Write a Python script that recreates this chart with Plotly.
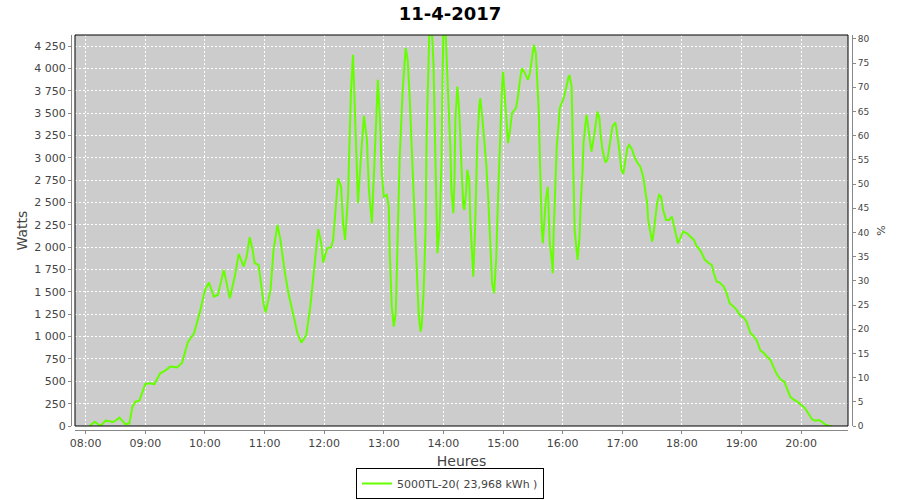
import plotly.graph_objects as go

DAY = "2017-04-11"
TITLE = "11-4-2017"
SERIES_NAME = "5000TL-20( 23,968 kWh )"

times = [
    "08:04", "08:09", "08:15", "08:20", "08:28", "08:34", "08:40", "08:44", "08:47", "08:50",
    "08:54", "09:00", "09:05", "09:09", "09:15", "09:20", "09:25", "09:32", "09:37", "09:43",
    "09:49", "09:55", "10:00", "10:04", "10:09", "10:13", "10:19", "10:25", "10:30", "10:34",
    "10:39", "10:42", "10:45", "10:48", "10:50", "10:54", "10:59", "11:01", "11:06", "11:09",
    "11:13", "11:16", "11:20", "11:24", "11:29", "11:33", "11:37", "11:42", "11:46", "11:50",
    "11:54", "11:57", "11:59", "12:03", "12:07", "12:09", "12:12", "12:14", "12:17", "12:19",
    "12:21", "12:24", "12:26", "12:27", "12:29", "12:30", "12:32", "12:34", "12:37", "12:40",
    "12:43", "12:45", "12:48", "12:50", "12:52", "12:54", "12:56", "12:58", "13:00", "13:03",
    "13:05", "13:06", "13:08", "13:10", "13:12", "13:14", "13:16", "13:19", "13:21", "13:22",
    "13:24", "13:26", "13:29", "13:31", "13:33", "13:35", "13:37", "13:38", "13:40", "13:42",
    "13:43", "13:45", "13:46", "13:48", "13:50", "13:52", "13:53", "13:54", "13:56", "13:58",
    "13:59", "14:00", "14:02", "14:04", "14:06", "14:07", "14:08", "14:10", "14:11", "14:12",
    "14:14", "14:16", "14:18", "14:20", "14:21", "14:23", "14:24", "14:26", "14:27", "14:29",
    "14:30", "14:32", "14:34", "14:36", "14:37", "14:39", "14:41", "14:43", "14:45", "14:47",
    "14:49", "14:51", "14:53", "14:55", "14:57", "14:59", "15:00", "15:01", "15:03", "15:05",
    "15:07", "15:09", "15:13", "15:15", "15:17", "15:19", "15:22", "15:25", "15:27", "15:29",
    "15:31", "15:33", "15:34", "15:36", "15:37", "15:38", "15:39", "15:40", "15:42", "15:43",
    "15:45", "15:46", "15:47", "15:49", "15:50", "15:51", "15:53", "15:54", "15:56", "15:57",
    "15:59", "16:01", "16:03", "16:06", "16:07", "16:09", "16:10", "16:11", "16:12", "16:14",
    "16:15", "16:17", "16:18", "16:20", "16:21", "16:23", "16:24", "16:26", "16:28", "16:29",
    "16:32", "16:34", "16:35", "16:37", "16:38", "16:40", "16:43", "16:45", "16:48", "16:50",
    "16:53", "16:54", "16:57", "16:59", "17:01", "17:03", "17:05", "17:07", "17:10", "17:12",
    "17:15", "17:18", "17:21", "17:23", "17:25", "17:26", "17:28", "17:30", "17:31", "17:33",
    "17:35", "17:37", "17:39", "17:41", "17:44", "17:47", "17:50", "17:51", "17:53", "17:55",
    "17:56", "17:59", "18:01", "18:05", "18:08", "18:12", "18:15", "18:17", "18:20", "18:23",
    "18:27", "18:30", "18:32", "18:35", "18:38", "18:42", "18:45", "18:48", "18:52", "18:55",
    "18:59", "19:02", "19:05", "19:09", "19:12", "19:15", "19:19", "19:22", "19:25", "19:29",
    "19:32", "19:35", "19:39", "19:43", "19:45", "19:49", "19:52", "19:56", "20:00", "20:04",
    "20:07", "20:11", "20:14", "20:18", "20:21", "20:24", "20:28", "20:31",
]

watts = [
    0, 48, 0, 60, 45, 93, 19, 30, 216, 272,
    283, 470, 477, 466, 589, 619, 664, 656, 709, 944,
    1037, 1279, 1522, 1604, 1447, 1466, 1746, 1429, 1671, 1925,
    1783, 1895, 2111, 1969, 1820, 1802, 1373, 1268, 1522, 1969,
    2249, 2081, 1746, 1485, 1242, 1037, 933, 1018, 1335, 1746,
    2201, 2044, 1828, 1988, 1999, 2081, 2492, 2771, 2678, 2268,
    2081, 2566, 3387, 3760, 4151, 3834, 3014, 2492, 3014, 3469,
    3200, 2641, 2268, 2753, 3312, 3872, 3462, 2827, 2566, 2585,
    2454, 1932, 1335, 1112, 1261, 2007, 3014, 3760, 4170, 4226,
    4096, 3685, 2865, 2268, 1708, 1261, 1056, 1112, 1485, 2193,
    3200, 4207, 4500, 4500, 4058, 2939, 2193, 1932, 2193, 2939,
    3797, 4450, 4450, 3946, 3499, 3088, 2641, 2380, 2715, 3424,
    3797, 3499, 2939, 2454, 2417, 2641, 2865, 2753, 2305, 1820,
    1671, 2268, 3163, 3573, 3667, 3462, 3200, 2939, 2566, 2119,
    1596, 1485, 1858, 2566, 3312, 3797, 3965, 3797, 3462, 3163,
    3312, 3499, 3555, 3685, 3872, 4002, 3946, 3872, 3946, 4096,
    4263, 4170, 3909, 3499, 3014, 2566, 2193, 2044, 2342, 2529,
    2678, 2417, 2044, 1858, 1708, 2193, 2753, 3126, 3387, 3555,
    3611, 3667, 3760, 3909, 3916, 3797, 3238, 2753, 2193, 1969,
    1858, 2119, 2454, 2865, 3163, 3387, 3480, 3312, 3163, 3070,
    3275, 3462, 3517, 3443, 3275, 3088, 2947, 2977, 3200, 3349,
    3394, 3331, 3088, 2865, 2820, 2958, 3107, 3144, 3088, 3014,
    2947, 2902, 2790, 2641, 2492, 2305, 2193, 2063, 2119, 2305,
    2492, 2585, 2566, 2417, 2305, 2305, 2342, 2286, 2193, 2081,
    2044, 2119, 2175, 2156, 2119, 2081, 2007, 1988, 1932, 1858,
    1820, 1802, 1708, 1615, 1604, 1559, 1485, 1373, 1335, 1298,
    1231, 1216, 1167, 1037, 1007, 962, 843, 821, 783, 739,
    664, 589, 522, 496, 440, 328, 298, 272, 235, 198,
    142, 75, 60, 67, 48, 19, 0, 0,
]

watts_ticks = list(range(0, 4251, 250))
pct_ticks = list(range(0, 81, 5))

x_vals = [f"{DAY} {t}" for t in times]

FONT = "DejaVu Sans"
LABEL = "#444444"
AXIS = "#888888"

fig = go.Figure()
fig.add_trace(go.Scatter(
    x=x_vals, y=watts, mode="lines", name=SERIES_NAME,
    line=dict(color="#66FF00", width=2),
))
# empty trace so that the right % axis is drawn
fig.add_trace(go.Scatter(
    x=[x_vals[0]], y=[None], yaxis="y2", mode="lines",
    showlegend=False, hoverinfo="skip",
))

W, H = 900, 500
ml, mr, mt, mb = 71, 48, 35, 70
pw = W - ml - mr
ph = H - mt - mb
gap = 4

fig.update_layout(
    width=W, height=H,
    margin=dict(l=ml, r=mr, t=mt, b=mb, autoexpand=False),
    paper_bgcolor="white",
    plot_bgcolor="#CCCCCC",
    separators=", ",
    font=dict(family=FONT, color=LABEL, size=11),
    title=dict(text=f"<b>{TITLE}</b>", x=0.5, xref="container", xanchor="center",
               y=1 - 14 / H, yref="container", yanchor="middle", automargin=False,
               font=dict(size=18, color="black", family=FONT)),
    showlegend=True,
    legend=dict(orientation="h", x=(450 - ml) / pw, xanchor="center",
                y=-(499 - (H - mb)) / ph, yanchor="bottom",
                bordercolor="black", borderwidth=1, bgcolor="white",
                font=dict(size=11, color=LABEL, family=FONT),
                itemwidth=30, tracegroupgap=0),
    xaxis=dict(
        type="date", automargin=False,
        domain=[gap / pw, (pw - gap) / pw],
        range=[f"{DAY} 07:49:14", f"{DAY} 20:47:06"],
        tick0=f"{DAY} 08:00", dtick=3600000, tickformat="%H:%M",
        showgrid=True, gridcolor="white", griddash="2px,2px", gridwidth=1,
        showline=True, linecolor=AXIS, linewidth=1,
        anchor="free", position=0,
        ticks="outside", ticklen=3, tickcolor=AXIS,
        tickfont=dict(size=11, color=LABEL),
        title=dict(text="Heures", font=dict(size=14, color=LABEL), standoff=6),
        zeroline=False,
    ),
    yaxis=dict(
        automargin=False,
        domain=[gap / ph, 1],
        range=[0, 4373],
        tickmode="array", tickvals=watts_ticks,
        separatethousands=True,
        showgrid=True, gridcolor="white", griddash="2px,2px", gridwidth=1,
        showline=True, linecolor=AXIS, linewidth=1,
        anchor="free", position=0,
        ticks="outside", ticklen=3, tickcolor=AXIS,
        tickfont=dict(size=11, color=LABEL),
        title=dict(text="Watts", font=dict(size=14, color=LABEL), standoff=2),
        zeroline=False,
    ),
    yaxis2=dict(
        automargin=False,
        overlaying="y", side="right",
        range=[0, 80.8],
        tickmode="array", tickvals=pct_ticks,
        showgrid=False,
        showline=True, linecolor=AXIS, linewidth=1,
        anchor="free", position=1,
        ticks="outside", ticklen=3, tickcolor=AXIS,
        tickfont=dict(size=9, color=LABEL),
        title=dict(text="%", font=dict(size=11, color=LABEL), standoff=8),
        zeroline=False,
    ),
)

# black frame around the data area
fig.add_shape(type="rect", xref="paper", yref="paper",
              x0=gap / pw, x1=(pw - gap) / pw, y0=gap / ph, y1=1,
              line=dict(color="black", width=1), fillcolor="rgba(0,0,0,0)",
              layer="above")

fig.write_html("out.html", config={"displayModeBar": False},
               post_script="document.body.style.margin='0';document.body.style.padding='0';")
